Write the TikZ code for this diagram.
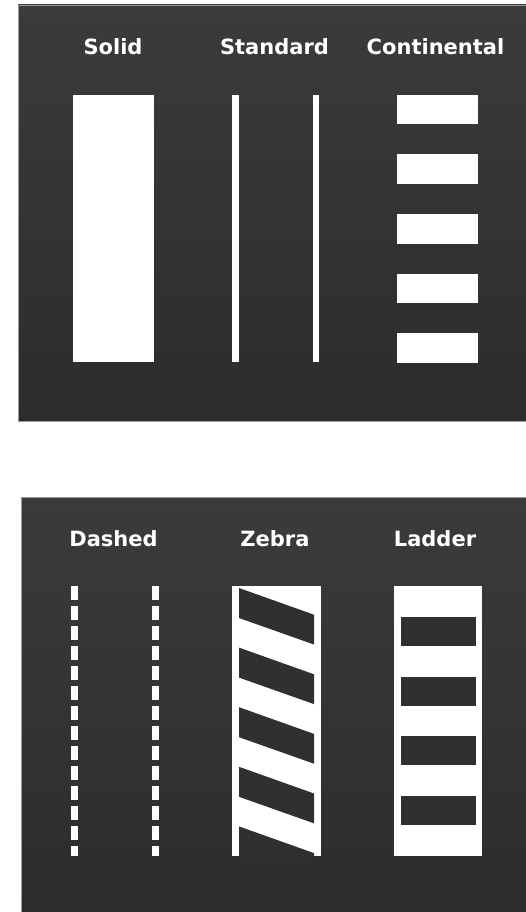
\documentclass[tikz,border=0pt]{standalone}
\usepackage{fontspec}
\setmainfont{DejaVu Sans}
\definecolor{pantop}{HTML}{3B3B3B}
\definecolor{panbot}{HTML}{2C2C2C}
\definecolor{band}{HTML}{303030}
\definecolor{rim}{HTML}{9A9A9A}
\begin{document}
\begin{tikzpicture}[x=1pt,y=-1pt,
  lbl/.style={text=white,font=\bfseries\fontsize{21}{24}\selectfont,anchor=base,inner sep=0pt},
  panel/.style={top color=pantop,bottom color=panbot,draw=rim,line width=0.8pt},
  paint/.style={fill=white},
  hole/.style={fill=band}]
\useasboundingbox (0,0) rectangle (525,912);
\fill[white] (0,0) rectangle (525,912);
% panels
\shade[panel] (18,5) rectangle (527,421.5);
\shade[panel] (21,497) rectangle (527,914);
% top labels
\node[lbl] (solid) at (113,55) {Solid};
\node[lbl] (standard) at (274.5,55) {Standard};
\node[lbl] (continental) at (435.5,55) {Continental};
% solid
\fill[paint] (73,95) rectangle (154,362);
% standard
\fill[paint] (232,95) rectangle (238.7,362);
\fill[paint] (312.7,95) rectangle (319.3,362);
% continental
\foreach \k in {0,...,4}
  \fill[paint] (397,95+59.5*\k) rectangle (478,124.5+59.5*\k);
% bottom labels
\node[lbl] (dashed) at (113.5,546.5) {Dashed};
\node[lbl] (zebra) at (275,546.5) {Zebra};
\node[lbl] (ladder) at (435,546.5) {Ladder};
% dashed
\draw[white,line width=6.5pt,dash pattern=on 14pt off 6pt] (74.5,586) -- (74.5,856);
\draw[white,line width=6.5pt,dash pattern=on 14pt off 6pt] (155.5,586) -- (155.5,856);
% zebra
\fill[paint] (232,586) rectangle (320.5,856);
\begin{scope}
  \clip (239,586) rectangle (314,856);
  \foreach \k in {0,...,4}
    \fill[hole] (239,588+59.6*\k) -- (314,614.7+59.6*\k) -- (314,644.5+59.6*\k) -- (239,618+59.6*\k) -- cycle;
\end{scope}
% ladder
\fill[paint] (394,586) rectangle (482,856);
\foreach \k in {0,...,3}
  \fill[hole] (401,617+59.5*\k) rectangle (475.5,646.3+59.5*\k);
\end{tikzpicture}
\end{document}
